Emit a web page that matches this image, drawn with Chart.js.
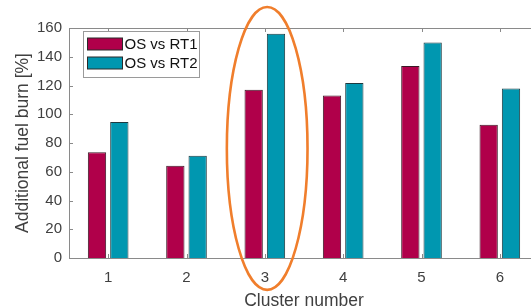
<!DOCTYPE html>
<html>
<head>
<meta charset="utf-8">
<script src="https://cdn.jsdelivr.net/npm/chart.js@4/dist/chart.umd.min.js"></script>
<style>
  html, body { margin: 0; padding: 0; background: #fff; overflow: hidden; }
  #wrap { width: 560px; height: 308px; }
</style>
</head>
<body>
<div id="wrap"><canvas id="fuelChart"></canvas></div>
<script>
const clusters = ['1', '2', '3', '4', '5', '6'];
const osVsRt1 = [73.5, 64.2, 117, 113, 133.5, 92.7];
const osVsRt2 = [94.6, 71.2, 156, 121.7, 150, 118];
const yTicks = [0, 20, 40, 60, 80, 100, 120, 140, 160];

// highlight ring round cluster 3, in data units (index, value, half-width, half-height)
const ringCenter = [2.03, 76.2];
const ringRadius = [0.515, 98.4];

const axisGrey = '#8a8a8a';
const textGrey = '#404040';

const matlabBox = {
    id: 'matlabBox',
    afterDraw(chart) {
        const { ctx, chartArea: a, scales: { x, y } } = chart;
        ctx.save();
        ctx.strokeStyle = axisGrey;
        ctx.lineWidth = 1;
        // top edge of the box
        ctx.beginPath();
        ctx.moveTo(a.left, a.top + 0.5);
        ctx.lineTo(a.right, a.top + 0.5);
        ctx.stroke();
        // inward tick marks
        ctx.beginPath();
        x.ticks.forEach((t, i) => {
            const px = Math.round(x.getPixelForTick(i)) + 0.5;
            ctx.moveTo(px, a.bottom); ctx.lineTo(px, a.bottom - 4);
            ctx.moveTo(px, a.top); ctx.lineTo(px, a.top + 4);
        });
        y.ticks.forEach((t, i) => {
            const py = Math.round(y.getPixelForTick(i)) + 0.5;
            ctx.moveTo(a.left, py); ctx.lineTo(a.left + 4, py);
        });
        ctx.stroke();

        // legend box
        const lx = a.left + 14.5, ly = a.top + 3.5, lw = 116, lh = 46;
        ctx.fillStyle = '#fff';
        ctx.fillRect(lx, ly, lw, lh);
        ctx.strokeStyle = '#9a9a9a';
        ctx.strokeRect(lx, ly, lw, lh);
        ctx.font = '15px "Liberation Sans", Arial, sans-serif';
        ctx.textBaseline = 'middle';
        chart.data.datasets.forEach((ds, i) => {
            const sy = ly + 6.5 + i * 19;
            ctx.fillStyle = ds.backgroundColor;
            ctx.fillRect(lx + 4, sy, 35, 12);
            ctx.strokeStyle = '#2a2a2a';
            ctx.strokeRect(lx + 4, sy, 35, 12);
            ctx.fillStyle = '#111';
            ctx.fillText(ds.label, lx + 41, sy + 7);
        });

        // orange ring
        const cx = x.getPixelForValue(ringCenter[0]);
        const cy = y.getPixelForValue(ringCenter[1]);
        const rx = ringRadius[0] * (x.getPixelForValue(1) - x.getPixelForValue(0));
        const ry = y.getPixelForValue(0) - y.getPixelForValue(ringRadius[1]);
        ctx.strokeStyle = '#f07e2c';
        ctx.lineWidth = 2.6;
        ctx.beginPath();
        ctx.ellipse(cx, cy, rx, ry, 0, 0, Math.PI * 2);
        ctx.stroke();
        ctx.restore();
    }
};

new Chart(document.getElementById('fuelChart'), {
    type: 'bar',
    data: {
        labels: clusters,
        datasets: [
            { label: 'OS vs RT1', data: osVsRt1, backgroundColor: '#b0004a', borderColor: '#3a1a26', borderWidth: 1 },
            { label: 'OS vs RT2', data: osVsRt2, backgroundColor: '#0097b0', borderColor: '#1d3a40', borderWidth: 1 }
        ]
    },
    options: {
        responsive: true,
        maintainAspectRatio: false,
        animation: false,
        categoryPercentage: 0.57,
        barPercentage: 0.82,
        layout: { padding: { top: 28, right: 21, left: 0, bottom: 0 } },
        plugins: { legend: { display: false }, tooltip: { enabled: false } },
        scales: {
            x: {
                grid: { display: false, drawTicks: false },
                border: { color: axisGrey },
                ticks: { color: textGrey, padding: 11, font: { size: 15, family: '"Liberation Sans", Arial' } },
                title: { display: true, text: 'Cluster number', color: textGrey, padding: { top: 0, bottom: -4 },
                         font: { size: 17.5, family: '"Liberation Sans", Arial' } },
                afterFit: s => { s.height = 50; }
            },
            y: {
                min: 0, max: 160,
                afterBuildTicks: s => { s.ticks = yTicks.map(v => ({ value: v })); },
                grid: { display: false, drawTicks: false },
                border: { color: axisGrey },
                ticks: { color: textGrey, padding: 7, font: { size: 15, family: '"Liberation Sans", Arial' } },
                title: { display: true, text: 'Additional fuel burn [%]', color: textGrey, padding: { top: 13, bottom: 0 },
                         font: { size: 17.5, family: '"Liberation Sans", Arial' } },
                afterFit: s => { s.width = 69; }
            }
        }
    },
    plugins: [matlabBox]
});
</script>
</body>
</html>
